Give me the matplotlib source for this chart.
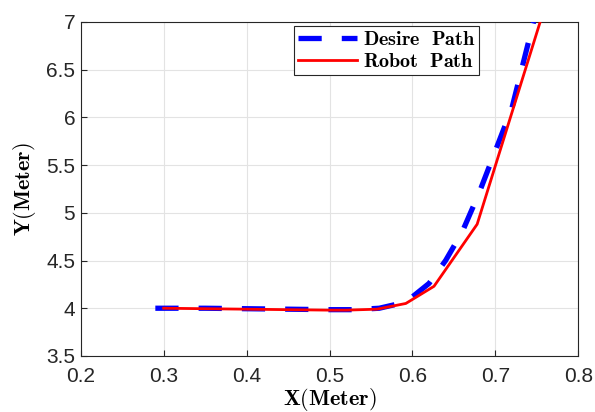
import numpy as np
import matplotlib
matplotlib.use("Agg")
import matplotlib.pyplot as plt

plt.rcParams['mathtext.fontset'] = 'cm'
plt.rcParams['font.family'] = ['Liberation Sans', 'DejaVu Sans']

# desired path (blue dashed)
desire_x = [0.29, 0.35, 0.40, 0.45, 0.50, 0.53, 0.56, 0.58, 0.60, 0.62,
            0.64, 0.66, 0.68, 0.70, 0.72, 0.746]
desire_y = [4.0, 4.0, 3.995, 3.99, 3.985, 3.985, 4.0, 4.04, 4.12, 4.26,
            4.5, 4.8, 5.2, 5.65, 6.1, 7.0]

# robot path (red solid)
robot_x = [0.30, 0.35, 0.40, 0.45, 0.50, 0.52, 0.557, 0.592, 0.626, 0.678, 0.754]
robot_y = [4.0, 3.995, 3.99, 3.985, 3.98, 3.98, 3.99, 4.05, 4.23, 4.88, 7.0]

xticks = [0.2, 0.3, 0.4, 0.5, 0.6, 0.7, 0.8]
yticks = [3.5, 4, 4.5, 5, 5.5, 6, 6.5, 7]

fig = plt.figure(figsize=(5.95, 4.12), dpi=100)
ax = fig.add_axes([0.1356, 0.136, 0.8364, 0.811])

ax.plot(desire_x, desire_y, color='#0000ff', lw=3.8, dashes=(4.4, 3.8),
        dash_capstyle='butt', solid_capstyle='round',
        label=r'$\mathbf{Desire\ \ Path}$', zorder=3)
ax.plot(robot_x, robot_y, color='#ff0000', lw=2.0,
        label=r'$\mathbf{Robot\ \ Path}$', zorder=4)

ax.set_xlim(0.2, 0.8)
ax.set_ylim(3.5, 7)
ax.set_xticks(xticks)
ax.set_yticks(yticks)
ax.set_xticklabels([f'{t:g}' for t in xticks])
ax.set_yticklabels([f'{t:g}' for t in yticks])
ax.tick_params(direction='in', labelsize=15, colors='#262626', length=4,
               pad=4)
ax.tick_params(axis='x', pad=8)
for s in ax.spines.values():
    s.set_color('#262626')
    s.set_linewidth(0.8)
ax.grid(True, color='#e3e3e3', lw=0.8)
ax.set_axisbelow(True)

ax.set_xlabel(r'$\mathbf{X(Meter)}$', fontsize=16, labelpad=0)
ax.set_ylabel(r'$\mathbf{Y(Meter)}$', fontsize=16, labelpad=6)

leg = ax.legend(loc='upper right', bbox_to_anchor=(0.801, 0.988),
                borderaxespad=0, fontsize=14.5, fancybox=False,
                framealpha=1, edgecolor='#262626', handlelength=2.9,
                handletextpad=0.3, borderpad=0.2, labelspacing=0.15)
leg.get_frame().set_linewidth(0.8)

fig.savefig('out.png', dpi=100)
